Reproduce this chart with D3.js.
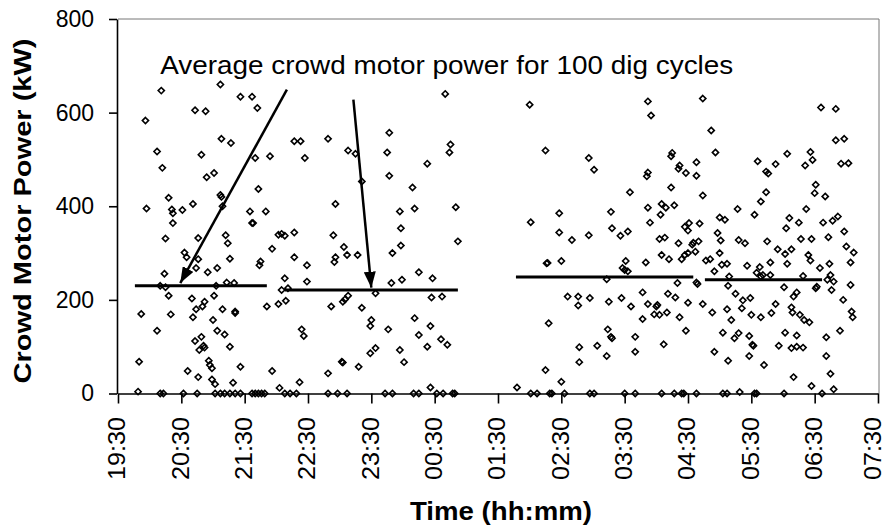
<!DOCTYPE html>
<html>
<head>
<meta charset="utf-8">
<script src="https://cdn.jsdelivr.net/npm/d3@7"></script>
<style>
  body { margin: 0; background: #fff; }
  svg { font-family: "Liberation Sans", Arial, sans-serif; }
</style>
</head>
<body>
<div id="chart"></div>
<script>
/* Dig cycles as [minutes after 19:30, crowd motor power kW]. */
const eveningCycles = [
  [41,647],[97,660],[116,634],[127,634],[132,610],[73,605],[83,603],[26,583],[98,544],[107,535],
  [37,517],[79,510],[42,482],[84,462],[91,471],[130,503],[144,507],[167,539],[173,539],[177,503],
  [133,437],[97,424],[98,420],[48,418],[27,395],[51,393],[52,385],[61,392],[71,405],[99,400],
  [125,389],[140,389],[127,364],[128,364],[52,364],[45,331],[76,332],[102,338],[104,321],[152,339],
  [155,341],[158,337],[167,344],[146,309],[63,301],[65,291],[76,287],[74,268],[106,288],[135,282],
  [134,274],[167,291],[179,274],[85,259],[94,268],[44,256],[158,246],[179,239],[40,230],[45,227],
  [93,230],[103,237],[110,236],[155,221],[161,225],[48,209],[70,203],[91,209],[82,196],[80,186],
  [74,180],[71,163],[99,180],[111,175],[111,172],[22,170],[50,169],[141,186],[152,191],[159,198],
  [90,157],[37,134],[94,134],[101,126],[174,137],[176,123],[73,112],[79,121],[81,102],[82,98],
  [77,93],[106,100],[20,68],[86,70],[87,61],[89,54],[116,57],[66,48],[76,35],[146,48],
  [89,30],[92,20],[109,23],[172,24],[19,4],[153,12],
  [40,0],[43,0],[62,0],[75,0],[92,0],[97,0],[101,0],[106,0],[111,0],[116,0],
  [127,0],[130,0],[133,0],[136,0],[139,0],[158,0],[163,0],[169,0]
];

const midnightCycles = [
  [310,640],[199,544],[257,557],[218,519],[225,512],[255,515],[315,532],[314,515],[293,491],[257,465],
  [231,453],[279,440],[206,405],[267,389],[281,395],[320,398],[268,353],[204,338],[322,325],[214,313],
  [217,296],[206,291],[205,281],[227,296],[260,300],[268,316],[285,259],[298,246],[269,243],[259,236],
  [244,214],[218,209],[215,201],[213,196],[202,186],[231,183],[297,205],[307,207],[240,157],[239,144],
  [256,137],[281,161],[296,144],[285,125],[306,116],[312,104],[293,100],[267,93],[244,97],[239,86],
  [271,67],[212,68],[213,66],[228,57],[199,43],[296,13],
  [199,0],[208,0],[217,0],[253,0],[260,0],[280,0],[285,0],[302,0],[308,0],[317,0],[319,0]
];

const earlyMorningCycles = [
  [390,617],[502,624],[505,594],[405,519],[446,503],[451,478],[525,514],[524,507],[532,487],[531,480],
  [538,471],[548,494],[548,465],[502,472],[501,464],[485,430],[524,440],[502,397],[515,405],[519,397],
  [527,402],[514,382],[504,365],[467,388],[418,385],[391,366],[418,344],[430,328],[446,338],[468,353],
  [476,337],[483,346],[513,330],[518,333],[531,321],[537,356],[541,364],[540,348],[544,318],[545,322],
  [547,303],[551,363],[550,325],[515,296],[522,287],[534,287],[537,296],[540,300],[406,278],[407,279],
  [420,283],[481,283],[478,268],[480,264],[483,261],[500,280],[463,244],[548,237],[549,234],[530,236],
  [426,207],[436,207],[436,188],[447,204],[465,196],[477,204],[486,186],[497,216],[502,191],[510,186],
  [511,189],[508,169],[513,168],[520,173],[521,213],[528,205],[540,194],[532,163],[497,159],[408,150],
  [464,137],[467,121],[468,118],[490,121],[538,134],[437,99],[454,102],[463,80],[490,89],[517,105],
  [437,67],[405,50],[420,25],[378,13],
  [391,0],[397,0],[409,0],[411,0],[423,0],[447,0],[451,0],[480,0],[490,0],[515,0],
  [527,0],[534,0],[536,0],[548,0]
];

const morningCycles = [
  [554,630],[562,562],[566,515],[554,423],[606,496],[614,474],[616,470],[623,490],[634,512],[666,611],
  [680,608],[680,541],[688,544],[656,516],[658,499],[651,487],[685,491],[692,492],[661,446],[660,428],
  [670,421],[614,430],[609,410],[603,382],[587,394],[570,376],[575,371],[568,343],[571,327],[588,328],
  [594,321],[557,284],[561,287],[570,300],[572,275],[577,277],[565,261],[579,250],[596,273],[615,325],
  [625,308],[618,280],[608,270],[605,258],[609,250],[611,253],[618,253],[632,298],[634,277],[638,308],
  [636,375],[633,353],[645,365],[652,394],[647,330],[657,330],[654,296],[656,284],[668,365],[677,369],
  [682,378],[673,334],[688,346],[690,314],[697,301],[694,280],[665,268],[674,277],[672,243],[675,253],
  [678,239],[649,251],[661,225],[662,228],[676,221],[694,232],[687,200],[631,227],[643,216],[640,207],
  [623,191],[619,172],[609,163],[600,168],[592,199],[591,182],[599,204],[585,213],[578,230],[554,191],
  [563,173],[577,180],[581,157],[638,184],[639,173],[646,168],[650,157],[655,152],[632,130],[643,124],
  [638,97],[643,100],[649,98],[626,102],[598,123],[602,102],[601,104],[588,129],[584,118],[573,130],
  [565,89],[578,70],[598,80],[612,61],[671,120],[684,134],[695,175],[696,163],[671,80],[675,42],
  [640,35],[657,16],[678,9],[589,3],
  [573,0],[577,0],[603,0],[605,0],[631,0],[667,0]
];

/* Averages over 100 dig cycles: start / end minute and mean kW. */
const avgStartMin = [16, 158, 377, 556];
const avgEndMin = [141, 322, 545, 667];
const avgPower = [230, 221, 249, 243];

/* Annotation arrows: tail and head as [minutes, kW]. */
const arrowTails = [[160, 649], [223, 628]];
const arrowHeads = [[59, 236], [240, 226]];
const noteText = "Average crowd motor power for 100 dig cycles";
const noteAnchor = [40, 683];

const timeTicks = ["19:30","20:30","21:30","22:30","23:30","00:30","01:30",
  "02:30","03:30","04:30","05:30","06:30","07:30"];
const powerTicks = [0, 200, 400, 600, 800];

const width = 887, height = 527;
const plot = { left: 118, right: 878, top: 19, bottom: 393.5 };

const base = new Date(2000, 0, 1, 19, 30);
const toDate = m => d3.timeMinute.offset(base, m);
const parseTick = s => {
  const [h, mm] = s.split(":").map(Number);
  return new Date(2000, 0, h < 19 ? 2 : 1, h, mm);
};

const x = d3.scaleTime()
  .domain([parseTick(timeTicks[0]), parseTick(timeTicks[timeTicks.length - 1])])
  .range([plot.left, plot.right]);
const y = d3.scaleLinear()
  .domain([0, 800])
  .range([plot.bottom, plot.top]);

const svg = d3.select("#chart").append("svg")
  .attr("width", width)
  .attr("height", height);

svg.append("rect").attr("width", width).attr("height", height).attr("fill", "#fff");

/* Plot border top and right. */
svg.append("path")
  .attr("d", `M${x.range()[0]},${y(800)}H${x.range()[1] + 1}V${y(0)}`)
  .attr("fill", "none")
  .attr("stroke", "#777")
  .attr("stroke-width", 1);

/* Points. */
const allCycles = eveningCycles.concat(midnightCycles, earlyMorningCycles, morningCycles);
const diamond = "M0,-3.1L3.1,0L0,3.1L-3.1,0Z";
svg.append("g").selectAll("path")
  .data(allCycles)
  .enter()
  .append("path")
  .attr("d", diamond)
  .attr("transform", d => `translate(${x(toDate(d[0]))},${y(d[1])})`)
  .attr("fill", "none")
  .attr("stroke", "#000")
  .attr("stroke-width", 1.6);

/* Axes. */
const yAxis = svg.append("g")
  .attr("transform", `translate(${plot.left - 1},0)`)
  .call(d3.axisLeft(y).tickValues(powerTicks).tickSize(8).tickPadding(15).tickSizeOuter(0));
yAxis.selectAll("text").attr("font-size", 23).attr("fill", "#000");

const xAxis = svg.append("g")
  .attr("transform", `translate(0,${plot.bottom})`)
  .call(d3.axisBottom(x).tickValues(timeTicks.map(parseTick)).tickSize(10)
    .tickSizeOuter(0).tickFormat(d3.timeFormat("%H:%M")));
xAxis.selectAll("text")
  .attr("font-size", 23)
  .attr("fill", "#000")
  .attr("transform", "rotate(-90)")
  .attr("text-anchor", "end")
  .attr("x", -23.5)
  .attr("y", 0)
  .attr("dy", (d, i) => i === timeTicks.length - 1 ? "0.12em" : "0.3em")
  .attr("textLength", 63)
  .attr("lengthAdjust", "spacingAndGlyphs");

svg.selectAll(".domain").attr("stroke", "#000").attr("stroke-width", 1.6);
svg.selectAll(".tick line").attr("stroke", "#000").attr("stroke-width", 1.6);

/* Average lines. */
svg.append("g").selectAll("line")
  .data(avgPower)
  .enter()
  .append("line")
  .attr("x1", (d, i) => x(toDate(avgStartMin[i])))
  .attr("x2", (d, i) => x(toDate(avgEndMin[i])))
  .attr("y1", d => y(d))
  .attr("y2", d => y(d))
  .attr("stroke", "#000")
  .attr("stroke-width", 3);

/* Arrows. */
svg.append("defs").append("marker")
  .attr("id", "head")
  .attr("markerUnits", "userSpaceOnUse")
  .attr("markerWidth", 16)
  .attr("markerHeight", 12)
  .attr("refX", 16)
  .attr("refY", 6)
  .attr("orient", "auto")
  .append("path")
  .attr("d", "M0,0L16,6L0,12Z")
  .attr("fill", "#000");

svg.append("g").selectAll("line")
  .data(arrowTails)
  .enter()
  .append("line")
  .attr("x1", d => x(toDate(d[0])))
  .attr("y1", d => y(d[1]))
  .attr("x2", (d, i) => x(toDate(arrowHeads[i][0])))
  .attr("y2", (d, i) => y(arrowHeads[i][1]))
  .attr("stroke", "#000")
  .attr("stroke-width", 2.5)
  .attr("marker-end", "url(#head)");

svg.append("text")
  .attr("x", x(toDate(noteAnchor[0])))
  .attr("y", y(noteAnchor[1]))
  .attr("font-size", 26)
  .attr("textLength", 573)
  .attr("lengthAdjust", "spacingAndGlyphs")
  .text(noteText);

/* Axis titles. */
svg.append("text")
  .attr("transform", "translate(31,211) rotate(-90)")
  .attr("text-anchor", "middle")
  .attr("font-size", 24)
  .attr("font-weight", "bold")
  .attr("textLength", 345)
  .attr("lengthAdjust", "spacingAndGlyphs")
  .text("Crowd Motor Power (kW)");

svg.append("text")
  .attr("x", 501)
  .attr("y", 520)
  .attr("text-anchor", "middle")
  .attr("font-size", 25)
  .attr("font-weight", "bold")
  .attr("textLength", 182)
  .attr("lengthAdjust", "spacingAndGlyphs")
  .text("Time (hh:mm)");
</script>
</body>
</html>
